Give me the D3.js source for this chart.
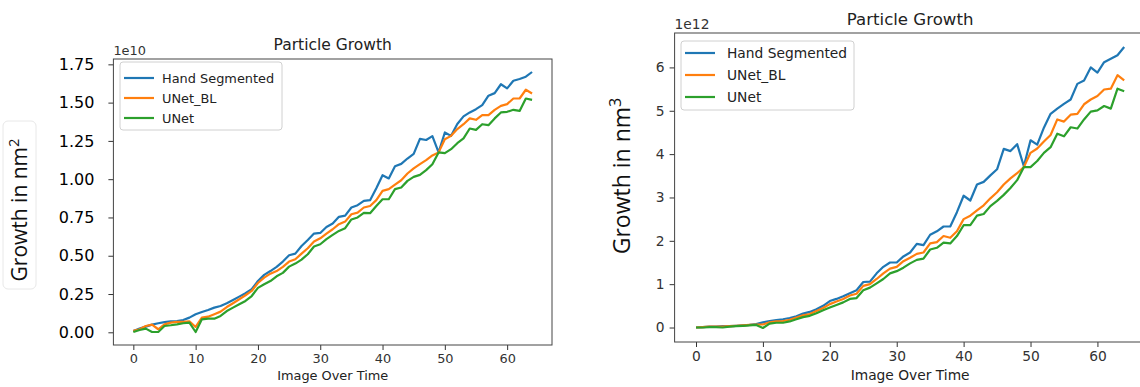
<!DOCTYPE html>
<html>
<head>
<meta charset="utf-8">
<script src="https://cdn.jsdelivr.net/npm/d3@7/dist/d3.min.js"></script>
<style>
  body { margin: 0; background: #fff; }
  text { font-family: "DejaVu Sans", sans-serif; }
</style>
</head>
<body>
<svg id="chart" width="1140" height="387"></svg>
<script>
// frame index 0..64
const frames = d3.range(0, 65);
const seriesNames = ['Hand Segmented', 'UNet_BL', 'UNet'];
const seriesColors = ['#1f77b4', '#ff7f0e', '#2ca02c'];
const xTicks = [0, 10, 20, 30, 40, 50, 60];

// area growth, x 1e10 nm^2
const areaHand = [0.009, 0.024, 0.037, 0.05, 0.059, 0.067, 0.072, 0.074, 0.08, 0.096,
  0.118, 0.133, 0.146, 0.161, 0.172, 0.19, 0.211, 0.233, 0.255, 0.281,
  0.335, 0.375, 0.40, 0.427, 0.462, 0.503, 0.514, 0.564, 0.603, 0.645,
  0.649, 0.688, 0.71, 0.754, 0.762, 0.815, 0.83, 0.858, 0.863, 0.941,
  1.026, 1.005, 1.085, 1.10, 1.135, 1.165, 1.263, 1.256, 1.281, 1.175,
  1.305, 1.283, 1.36, 1.41, 1.436, 1.457, 1.484, 1.545, 1.562, 1.62,
  1.593, 1.643, 1.654, 1.669, 1.70];
const areaUNetBL = [0.009, 0.02, 0.041, 0.05, 0.02, 0.052, 0.063, 0.068, 0.068, 0.072,
  0.035, 0.096, 0.102, 0.118, 0.135, 0.165, 0.19, 0.216, 0.242, 0.27,
  0.322, 0.357, 0.383, 0.40, 0.427, 0.462, 0.477, 0.514, 0.549, 0.593,
  0.614, 0.645, 0.673, 0.706, 0.723, 0.771, 0.782, 0.815, 0.825, 0.863,
  0.924, 0.935, 0.965, 0.993, 1.037, 1.07, 1.098, 1.124, 1.155, 1.175,
  1.261, 1.283, 1.327, 1.359, 1.397, 1.388, 1.418, 1.418, 1.453, 1.479,
  1.49, 1.527, 1.527, 1.584, 1.56];
const areaUNet = [0.002, 0.015, 0.024, 0.002, 0.002, 0.041, 0.046, 0.052, 0.059, 0.063,
  0.002, 0.085, 0.089, 0.089, 0.107, 0.139, 0.161, 0.183, 0.205, 0.237,
  0.29, 0.314, 0.335, 0.366, 0.388, 0.429, 0.449, 0.475, 0.51, 0.56,
  0.575, 0.608, 0.636, 0.662, 0.68, 0.737, 0.75, 0.78, 0.778, 0.825,
  0.869, 0.869, 0.935, 0.946, 0.989, 1.015, 1.028, 1.059, 1.098, 1.175,
  1.17, 1.196, 1.235, 1.266, 1.331, 1.322, 1.359, 1.353, 1.397, 1.436,
  1.44, 1.453, 1.446, 1.527, 1.518];

// volume growth, x 1e12 nm^3
const volHand = [0.0, 0.01, 0.02, 0.02, 0.03, 0.03, 0.04, 0.05, 0.06, 0.08,
  0.12, 0.15, 0.17, 0.19, 0.22, 0.26, 0.32, 0.36, 0.42, 0.50,
  0.61, 0.66, 0.72, 0.79, 0.86, 1.05, 1.06, 1.25, 1.40, 1.50,
  1.50, 1.64, 1.73, 1.93, 1.90, 2.14, 2.22, 2.33, 2.33, 2.66,
  3.04, 2.93, 3.30, 3.36, 3.51, 3.65, 4.12, 4.07, 4.23, 3.72,
  4.32, 4.22, 4.61, 4.93, 5.05, 5.16, 5.26, 5.62, 5.70, 6.0,
  5.88, 6.12, 6.20, 6.28, 6.47];
const volUNetBL = [0.0, 0.01, 0.02, 0.02, 0.02, 0.03, 0.04, 0.05, 0.06, 0.07,
  0.07, 0.12, 0.14, 0.15, 0.18, 0.23, 0.28, 0.31, 0.38, 0.45,
  0.54, 0.60, 0.66, 0.74, 0.78, 0.96, 1.0, 1.12, 1.25, 1.36,
  1.40, 1.53, 1.61, 1.70, 1.73, 1.94, 1.97, 2.11, 2.07, 2.22,
  2.50, 2.58, 2.70, 2.82, 2.98, 3.12, 3.30, 3.44, 3.56, 3.70,
  4.03, 4.13, 4.29, 4.44, 4.80, 4.75, 4.91, 4.93, 5.15, 5.26,
  5.34, 5.49, 5.51, 5.82, 5.70];
const volUNet = [0.0, 0.0, 0.01, 0.01, 0.0, 0.02, 0.03, 0.04, 0.05, 0.06,
  -0.01, 0.09, 0.11, 0.11, 0.14, 0.19, 0.24, 0.27, 0.33, 0.40,
  0.46, 0.52, 0.58, 0.66, 0.68, 0.86, 0.92, 1.02, 1.12, 1.25,
  1.30, 1.38, 1.48, 1.56, 1.59, 1.80, 1.84, 1.96, 1.94, 2.11,
  2.36, 2.36, 2.58, 2.62, 2.80, 2.92, 3.06, 3.22, 3.40, 3.70,
  3.70, 3.84, 4.03, 4.16, 4.47, 4.41, 4.62, 4.59, 4.80, 4.98,
  5.01, 5.11, 5.05, 5.51, 5.45];

const svg = d3.select('#chart');

function drawPanel(cfg) {
  const series = cfg.series;
  const all = series.flat();
  const lo = d3.min(all), hi = d3.max(all);
  const pad = (hi - lo) * 0.05;

  const x = d3.scaleLinear().domain([-3.2, 67.2]).range([cfg.left, cfg.right]);
  const y = d3.scaleLinear().domain([lo - pad, hi + pad]).range([cfg.bottom, cfg.top]);

  const g = svg.append('g');

  // x axis
  const xAxis = g.append('g')
    .attr('transform', `translate(0,${cfg.bottom})`)
    .call(d3.axisBottom(x).tickValues(xTicks).tickSize(5).tickPadding(4).tickSizeOuter(0));
  xAxis.select('.domain').remove();
  xAxis.selectAll('line').attr('stroke', '#333');
  xAxis.selectAll('text').attr('fill', '#333').style('font-size', cfg.fs + 'px');

  // y axis
  const yAxis = g.append('g')
    .attr('transform', `translate(${cfg.left},0)`)
    .call(d3.axisLeft(y).tickValues(cfg.yTicks).tickFormat(cfg.yFormat)
      .tickSize(5).tickPadding(cfg.yPad).tickSizeOuter(0));
  yAxis.select('.domain').remove();
  yAxis.selectAll('line').attr('stroke', '#333');
  yAxis.selectAll('text').attr('fill', cfg.yColor).style('font-size', cfg.yFs + 'px');

  // lines
  const line = d3.line().x((d, i) => x(frames[i])).y(d => y(d));
  series.forEach((s, k) => {
    g.append('path')
      .datum(s)
      .attr('d', line)
      .attr('fill', 'none')
      .attr('stroke', seriesColors[k])
      .attr('stroke-width', 2.2)
      .attr('stroke-linejoin', 'round');
  });

  // frame
  g.append('rect')
    .attr('x', cfg.left).attr('y', cfg.top)
    .attr('width', cfg.right - cfg.left).attr('height', cfg.bottom - cfg.top)
    .attr('fill', 'none').attr('stroke', '#444').attr('stroke-width', 1);

  // titles
  const cx = (cfg.left + cfg.right) / 2;
  g.append('text').attr('x', cx).attr('y', cfg.titleY)
    .attr('text-anchor', 'middle').attr('fill', '#222')
    .style('font-size', cfg.titleFs + 'px').text('Particle Growth');
  g.append('text').attr('x', cx).attr('y', cfg.bottom + cfg.fs * 2.75)
    .attr('text-anchor', 'middle').attr('fill', '#222')
    .style('font-size', cfg.fs + 'px').text('Image Over Time');
  g.append('text').attr('x', cfg.left).attr('y', cfg.top - 4)
    .attr('fill', '#333').style('font-size', cfg.fs + 'px').text(cfg.offset);

  // legend
  const lg = cfg.legend;
  g.append('rect')
    .attr('x', lg.x).attr('y', lg.y).attr('width', lg.w).attr('height', lg.h)
    .attr('rx', 3).attr('fill', '#fff').attr('fill-opacity', 0.8)
    .attr('stroke', '#d0d0d0');
  seriesNames.forEach((name, k) => {
    const yy = lg.y + lg.first + k * lg.step;
    g.append('line')
      .attr('x1', lg.x + 4).attr('x2', lg.x + 4 + lg.len)
      .attr('y1', yy).attr('y2', yy)
      .attr('stroke', seriesColors[k]).attr('stroke-width', 2.2);
    g.append('text')
      .attr('x', lg.x + lg.textX).attr('y', yy).attr('dy', '0.35em')
      .attr('fill', '#222').style('font-size', cfg.fs + 'px').text(name);
  });

  // y label
  const yl = g.append('text')
    .attr('transform', `translate(${cfg.ylabX},${cfg.ylabY}) rotate(-90)`)
    .attr('text-anchor', 'middle')
    .attr('fill', '#111')
    .style('font-family', '"Open Sans", "Noto Sans", sans-serif')
    .style('font-size', cfg.ylabFs + 'px');
  yl.append('tspan').text('Growth in nm');
  yl.append('tspan').attr('dy', -cfg.ylabFs * 0.4)
    .style('font-size', (cfg.ylabFs * 0.7) + 'px').text(cfg.sup);
}

// left label box
svg.append('rect')
  .attr('x', 3).attr('y', 121).attr('width', 33).attr('height', 168)
  .attr('rx', 5).attr('fill', '#fff').attr('stroke', '#e8e8e8');

drawPanel({
  series: [areaHand, areaUNetBL, areaUNet],
  left: 113.4, right: 552, top: 59, bottom: 345,
  fs: 12.9, titleFs: 15.5, titleY: 50,
  yTicks: [0, 0.25, 0.5, 0.75, 1.0, 1.25, 1.5, 1.75],
  yFormat: d3.format('.2f'), yPad: 14, yFs: 16, yColor: '#000',
  offset: '1e10',
  legend: { x: 120, y: 62, w: 162, h: 68, first: 16, step: 20, len: 30, textX: 42 },
  ylabX: 27, ylabY: 210, ylabFs: 21, sup: '2'
});

drawPanel({
  series: [volHand, volUNetBL, volUNet],
  left: 674.6, right: 1145.6, top: 33, bottom: 342,
  fs: 13.8, titleFs: 16.6, titleY: 25,
  yTicks: [0, 1, 2, 3, 4, 5, 6],
  yFormat: d3.format('d'), yPad: 5, yFs: 13.8, yColor: '#333',
  offset: '1e12',
  legend: { x: 681, y: 41, w: 173, h: 69, first: 12, step: 22, len: 30, textX: 46 },
  ylabX: 630, ylabY: 176, ylabFs: 23, sup: '3'
});
</script>
</body>
</html>
